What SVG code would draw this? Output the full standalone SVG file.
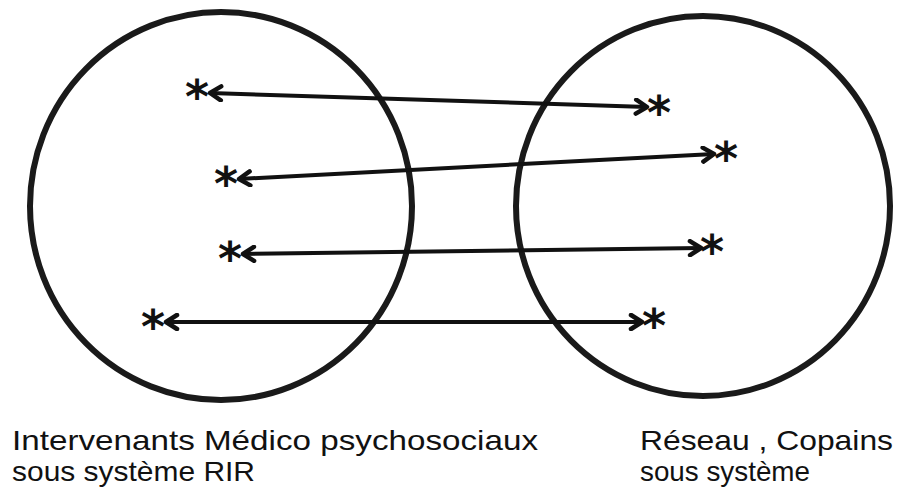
<svg xmlns="http://www.w3.org/2000/svg" width="899" height="495" viewBox="0 0 899 495">
<style>
.circ{fill:none;stroke:#1a1a1a;stroke-width:6}
.conn{stroke:#111;stroke-width:4;fill:none;marker-start:url(#chev);marker-end:url(#chev)}
.star{font-family:"DejaVu Sans",sans-serif;font-weight:bold;font-size:46px;fill:#111;text-anchor:middle}
.lbl{font-family:"Liberation Sans",sans-serif;font-size:28px;fill:#111}
</style>
<defs>
<marker id="chev" markerUnits="userSpaceOnUse" viewBox="0 0 18 18" markerWidth="18" markerHeight="18" refX="14" refY="9" orient="auto-start-reverse">
<path d="M3,2 L14,9 L3,16" fill="none" stroke="#111" stroke-width="4.5" stroke-linecap="round" stroke-linejoin="round"/>
</marker>
</defs>
<g id="left-system">
<ellipse class="circ" cx="221" cy="206" rx="191" ry="194"/>
<text class="lbl" x="12" y="450" textLength="526" lengthAdjust="spacingAndGlyphs">Intervenants Médico psychosociaux</text>
<text class="lbl" x="12" y="481" textLength="243" lengthAdjust="spacingAndGlyphs">sous système RIR</text>
</g>
<g id="right-system">
<ellipse class="circ" cx="703" cy="206" rx="187" ry="190"/>
<text class="lbl" x="640" y="450" textLength="253" lengthAdjust="spacingAndGlyphs">Réseau , Copains</text>
<text class="lbl" x="640" y="481" textLength="170" lengthAdjust="spacingAndGlyphs">sous système</text>
</g>
<g id="left-points">
<text class="star" x="197" y="113">*</text>
<text class="star" x="226" y="200">*</text>
<text class="star" x="230" y="275">*</text>
<text class="star" x="153" y="343">*</text>
</g>
<g id="right-points">
<text class="star" x="659" y="129">*</text>
<text class="star" x="726" y="175">*</text>
<text class="star" x="712" y="268">*</text>
<text class="star" x="654" y="342">*</text>
</g>
<g id="connectors">
<line class="conn" x1="210" y1="93" x2="647" y2="107"/>
<line class="conn" x1="239" y1="179" x2="714" y2="154"/>
<line class="conn" x1="243" y1="254" x2="701" y2="248"/>
<line class="conn" x1="166" y1="322" x2="642" y2="322"/>
</g>
</svg>
